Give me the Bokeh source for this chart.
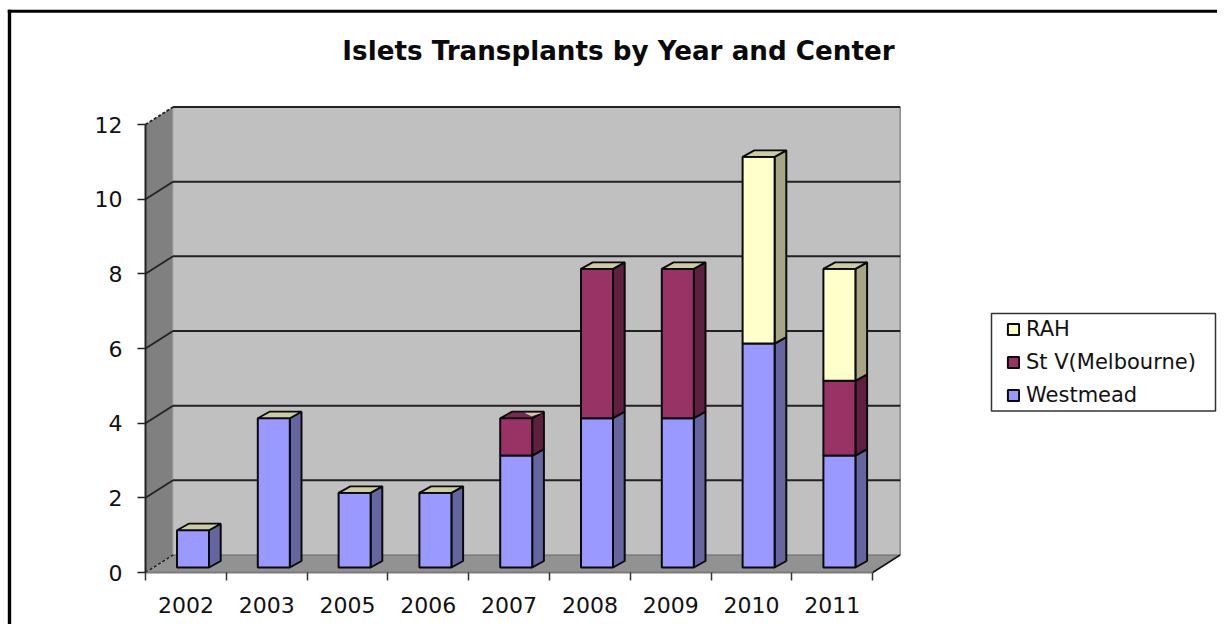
from bokeh.plotting import figure
from bokeh.embed import file_html
from bokeh.resources import INLINE
from bokeh.models import Range1d, FixedTicker, Legend, LegendItem, Label

# ---- data ----
years = ["2002", "2003", "2005", "2006", "2007", "2008", "2009", "2010", "2011"]
westmead = [1, 4, 2, 2, 3, 4, 4, 6, 3]
stv = [0, 0, 0, 0, 1, 4, 4, 0, 2]
rah = [0, 0, 0, 0, 0, 0, 0, 5, 3]
y_ticks = [0, 2, 4, 6, 8, 10, 12]
title_text = "Islets Transplants by Year and Center"

series = [
    ("Westmead", westmead, "#9999FF", "#65659F"),
    ("St V(Melbourne)", stv, "#993366", "#5F2040"),
    ("RAH", rah, "#FFFFCC", "#A6A684"),
]
TOP_BEIGE = "#CCCCA3"
TOP_PLUM = "#7A2952"

# ---- layout ----
W, H = 1217, 624
CAT_PX, UNIT_PX = 80.8, 37.33
X0_PX, Y0_PX = 145.0, 572.0          # position of category 0 / value 0 inside the figure
FONT = "DejaVu Sans"

def xs(px):
    return px / CAT_PX
def ys(px):
    return px / UNIT_PX
def fx(px):                           # figure pixel -> x data
    return (px - X0_PX) / CAT_PX
def fy(px):                           # figure pixel from top -> y data
    return (Y0_PX - px) / UNIT_PX

n = len(years)
TOP = y_ticks[-1]
WALL_DX, WALL_DY = xs(27.5), ys(17.5)
BAR_OFF, BAR_W = xs(31.5), xs(32.0)
BAR_BASE = ys(5.0)
BAR_DX, BAR_DY = xs(11.7), ys(6.5)

p = figure(width=W, height=H, output_backend="svg", toolbar_location=None,
           x_range=Range1d(fx(0), fx(W)), y_range=Range1d(fy(H), fy(0)),
           min_border=0, outline_line_color=None, background_fill_color="white",
           border_fill_color="white")
p.grid.visible = False

# ---- page frame rules ----
p.line([fx(7.3), fx(W)], [fy(10.8), fy(10.8)], line_color="black", line_width=3)
p.line([fx(9), fx(9)], [fy(9.3), fy(H)], line_color="black", line_width=3.4)

# ---- walls and floor ----
p.patch([0, WALL_DX, WALL_DX, 0], [0, WALL_DY, TOP + WALL_DY, TOP], fill_color="#808080", line_color=None)
p.patch([WALL_DX, n + WALL_DX, n + WALL_DX, WALL_DX], [WALL_DY, WALL_DY, TOP + WALL_DY, TOP + WALL_DY],
        fill_color="#C0C0C0", line_color=None)
p.patch([0, n, n + WALL_DX, WALL_DX], [0, 0, WALL_DY, WALL_DY], fill_color="#929292", line_color=None)
p.line([n + WALL_DX, n + WALL_DX], [WALL_DY, TOP + WALL_DY], line_color="#8A8A8A", line_width=1.5)
p.line([WALL_DX, WALL_DX], [WALL_DY, TOP + WALL_DY], line_color="#A8A8A8", line_width=1)
p.line([WALL_DX, n + WALL_DX], [WALL_DY, WALL_DY], line_color="#666666", line_width=1.2)
p.line([0, WALL_DX], [0, WALL_DY], line_color="#222222", line_width=1.5, line_dash="3 2")
p.line([n, n + WALL_DX], [0, WALL_DY], line_color="#111111", line_width=1.5)

for v in y_ticks[1:]:
    dash = "3 2" if v == TOP else "solid"
    p.line([0, WALL_DX], [v, v + WALL_DY], line_color="#222222", line_width=1.8, line_dash=dash)
    p.line([WALL_DX, n + WALL_DX], [v + WALL_DY, v + WALL_DY], line_color="#222222", line_width=2)

# ---- stacked 3D bars ----
legend_handles = {}
bottoms = [0] * n
for name, vals, front, side in series:
    idx = [i for i in range(n) if vals[i] > 0]
    lefts = [i + BAR_OFF for i in idx]
    rights = [i + BAR_OFF + BAR_W for i in idx]
    lows = [bottoms[i] + BAR_BASE for i in idx]
    highs = [bottoms[i] + vals[i] + BAR_BASE for i in idx]
    p.patches([[r, r + BAR_DX, r + BAR_DX, r] for r in rights],
              [[lo, lo + BAR_DY, hi + BAR_DY, hi] for lo, hi in zip(lows, highs)],
              fill_color=side, line_color="#0A0A0A", line_width=2)
    legend_handles[name] = p.quad(left=lefts, right=rights, bottom=lows, top=highs,
                                  fill_color=front, line_color="#0A0A0A", line_width=2)
    for i in idx:
        bottoms[i] += vals[i]

# top faces
top_idx = list(range(n))
top_colors = [TOP_PLUM if i == 4 else TOP_BEIGE for i in top_idx]
p.patches([[i + BAR_OFF, i + BAR_OFF + BAR_W, i + BAR_OFF + BAR_W + BAR_DX, i + BAR_OFF + BAR_DX] for i in top_idx],
          [[bottoms[i] + BAR_BASE, bottoms[i] + BAR_BASE, bottoms[i] + BAR_BASE + BAR_DY, bottoms[i] + BAR_BASE + BAR_DY] for i in top_idx],
          fill_color=top_colors, line_color="#0A0A0A", line_width=1.8)
# the small sliver of the zero-height RAH top that shows on 2007
i07 = years.index("2007")
b07 = bottoms[i07] + BAR_BASE
p.patch([i07 + BAR_OFF + BAR_W * 0.75, i07 + BAR_OFF + BAR_W + BAR_DX * 0.9, i07 + BAR_OFF + BAR_W * 0.98],
        [b07 + BAR_DY * 0.85, b07 + BAR_DY * 0.85, b07 + BAR_DY * 0.3],
        fill_color=TOP_BEIGE, line_color=None)

# ---- axes ----
ya = p.yaxis[0]
ya.fixed_location = 0
ya.bounds = (0, TOP)
ya.ticker = FixedTicker(ticks=y_ticks)
ya.axis_line_color = "#222222"
ya.axis_line_width = 2
ya.major_tick_line_color = "#222222"
ya.major_tick_line_width = 1.5
ya.major_tick_in = 0
ya.major_tick_out = 8
ya.minor_tick_line_color = None
ya.major_label_standoff = 15
ya.major_label_text_font = FONT
ya.major_label_text_font_size = "22px"
ya.major_label_text_color = "#111111"

xa = p.xaxis[0]
xa.fixed_location = 0
xa.bounds = (0, n)
xa.ticker = FixedTicker(ticks=[i + 0.5 for i in range(n)], minor_ticks=list(range(n + 1)))
xa.major_label_overrides = {i + 0.5: y for i, y in enumerate(years)}
xa.axis_line_color = "#7A7A7A"
xa.axis_line_width = 2
xa.major_tick_line_color = None
xa.major_tick_in = 0
xa.major_tick_out = 0
xa.minor_tick_line_color = "#333333"
xa.minor_tick_line_width = 1.5
xa.minor_tick_in = 0
xa.minor_tick_out = 8
xa.major_label_standoff = 16
xa.major_label_text_font = FONT
xa.major_label_text_font_size = "22px"
xa.major_label_text_color = "#111111"

# ---- title ----
p.add_layout(Label(x=fx(618), y=fy(50), text=title_text, text_align="center", text_baseline="middle",
                   text_font=FONT, text_font_size="26.2px", text_font_style="bold",
                   text_color="#0A0A0A"))

# ---- legend ----
p.quad(left=[fx(991)], right=[fx(1215)], bottom=[fy(410.5)], top=[fy(313)],
       fill_color="white", line_color="#333333", line_width=1.5)
legend = Legend(items=[LegendItem(label=name, renderers=[legend_handles[name]])
                       for name in ["RAH", "St V(Melbourne)", "Westmead"]],
                location=(1006, 217), orientation="vertical", margin=0, padding=0, spacing=9,
                glyph_width=14, glyph_height=14, label_standoff=6,
                label_text_font=FONT, label_text_font_size="21px", label_text_color="#111111",
                label_height=20, border_line_color=None, background_fill_alpha=0)
p.add_layout(legend)

open("out.html", "w").write(file_html(p, INLINE))
